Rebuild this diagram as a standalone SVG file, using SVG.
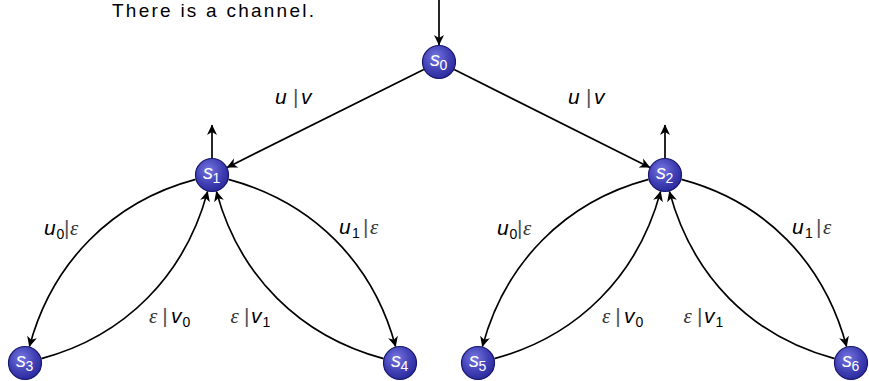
<svg xmlns="http://www.w3.org/2000/svg" width="869" height="381" viewBox="0 0 869 381">
<style>
.edge{fill:none;stroke:#000;stroke-width:1.7;marker-end:url(#ah)}
.node circle{fill:url(#ng);stroke:#16166e;stroke-width:1.2}
.ns{font-family:"Liberation Sans",Arial,sans-serif;font-style:italic;font-size:20px;fill:#fff}
.nd{font-family:"Liberation Sans",Arial,sans-serif;font-size:14px;fill:#fff}
.m{font-family:"Liberation Sans",Arial,sans-serif;font-style:italic;font-size:21px;fill:#000}
.sub{font-family:"Liberation Sans",Arial,sans-serif;font-size:14px;fill:#000}
.bar{font-family:"Liberation Sans",Arial,sans-serif;font-size:21px;fill:#555}
.eps{font-family:"Liberation Serif","Times New Roman",serif;font-style:italic;font-size:21px;fill:#333}
.title{font-family:"Liberation Sans",Arial,sans-serif;font-size:19px;fill:#000}
</style>
<defs>
<radialGradient id="ng" cx="0.4" cy="0.35" r="0.7">
<stop offset="0" stop-color="#7676e2"/>
<stop offset="0.6" stop-color="#4040b4"/>
<stop offset="1" stop-color="#28289a"/>
</radialGradient>
<marker id="ah" viewBox="-11 -6 12 12" refX="0" refY="0" markerWidth="12" markerHeight="12" markerUnits="userSpaceOnUse" orient="auto">
<path d="M0.5,0 L-10,-5 L-7,0 L-10,5 Z" fill="#000"/>
</marker>
</defs>
<rect width="869" height="381" fill="#fff"/>
<text class="title" x="112" y="17" textLength="202" lengthAdjust="spacing">There is a channel.</text>
<g id="connectors">
<path class="edge" d="M439,0 L439,45"/>
<path class="edge" d="M212,158 L212,125"/>
<path class="edge" d="M665,158 L665,125"/>
<path class="edge" d="M423.8,69.6 L227.2,167.4"/>
<path class="edge" d="M454.2,69.6 L649.8,167.4"/>
<path class="edge" d="M195.6,179.4 C111.8,201.8 51.9,262.8 29.4,346.6"/>
<path class="edge" d="M41.4,358.6 C125.2,336.2 185.1,275.2 207.6,191.4"/>
<path class="edge" d="M228.4,179.4 C312.5,201.9 373.1,262.5 395.6,346.6"/>
<path class="edge" d="M383.6,358.6 C299.5,336.1 238.9,275.5 216.4,191.4"/>
<path class="edge" d="M648.6,179.4 C564.8,201.8 504.9,262.8 482.4,346.6"/>
<path class="edge" d="M494.4,358.6 C578.2,336.2 638.1,275.2 660.6,191.4"/>
<path class="edge" d="M681.4,179.4 C765.5,201.9 824.1,262.5 846.6,346.6"/>
<path class="edge" d="M834.6,358.6 C750.5,336.1 691.9,275.5 669.4,191.4"/>
</g>
<g id="labels">
<text><tspan class="m" x="275" y="104">u</tspan><tspan class="bar" x="293" y="104">|</tspan><tspan class="m" x="301" y="104">v</tspan></text>
<text><tspan class="m" x="568" y="104">u</tspan><tspan class="bar" x="586" y="104">|</tspan><tspan class="m" x="594" y="104">v</tspan></text>
<text><tspan class="m" x="44" y="235">u</tspan><tspan class="sub" x="56.5" y="239">0</tspan><tspan class="bar" x="64" y="235">|</tspan><tspan class="eps" x="70" y="235">ε</tspan></text>
<text><tspan class="m" x="339" y="234">u</tspan><tspan class="sub" x="352" y="238">1</tspan><tspan class="bar" x="363" y="234">|</tspan><tspan class="eps" x="370" y="234">ε</tspan></text>
<text><tspan class="eps" x="149" y="323">ε</tspan><tspan class="bar" x="162.3" y="323">|</tspan><tspan class="m" x="171" y="323">v</tspan><tspan class="sub" x="182.5" y="327">0</tspan></text>
<text><tspan class="eps" x="230.5" y="323">ε</tspan><tspan class="bar" x="244" y="323">|</tspan><tspan class="m" x="251" y="323">v</tspan><tspan class="sub" x="262.5" y="327">1</tspan></text>
<text><tspan class="m" x="497" y="235">u</tspan><tspan class="sub" x="509.5" y="239">0</tspan><tspan class="bar" x="517" y="235">|</tspan><tspan class="eps" x="523" y="235">ε</tspan></text>
<text><tspan class="m" x="792" y="234">u</tspan><tspan class="sub" x="805" y="238">1</tspan><tspan class="bar" x="816" y="234">|</tspan><tspan class="eps" x="823" y="234">ε</tspan></text>
<text><tspan class="eps" x="602" y="323">ε</tspan><tspan class="bar" x="615.3" y="323">|</tspan><tspan class="m" x="624" y="323">v</tspan><tspan class="sub" x="635.5" y="327">0</tspan></text>
<text><tspan class="eps" x="683.5" y="323">ε</tspan><tspan class="bar" x="697" y="323">|</tspan><tspan class="m" x="704" y="323">v</tspan><tspan class="sub" x="715.5" y="327">1</tspan></text>
</g>
<g id="s0" class="node"><circle cx="439" cy="62" r="16.5"/><text class="ns" x="430" y="66">s</text><text class="nd" x="439.5" y="70">0</text></g>
<g id="s1" class="node"><circle cx="212" cy="175" r="16.5"/><text class="ns" x="203" y="179">s</text><text class="nd" x="212.5" y="183">1</text></g>
<g id="s2" class="node"><circle cx="665" cy="175" r="16.5"/><text class="ns" x="656" y="179">s</text><text class="nd" x="665.5" y="183">2</text></g>
<g id="s3" class="node"><circle cx="25" cy="363" r="16.5"/><text class="ns" x="16" y="367">s</text><text class="nd" x="25.5" y="371">3</text></g>
<g id="s4" class="node"><circle cx="400" cy="363" r="16.5"/><text class="ns" x="391" y="367">s</text><text class="nd" x="400.5" y="371">4</text></g>
<g id="s5" class="node"><circle cx="478" cy="363" r="16.5"/><text class="ns" x="469" y="367">s</text><text class="nd" x="478.5" y="371">5</text></g>
<g id="s6" class="node"><circle cx="851" cy="363" r="16.5"/><text class="ns" x="842" y="367">s</text><text class="nd" x="851.5" y="371">6</text></g>
</svg>
